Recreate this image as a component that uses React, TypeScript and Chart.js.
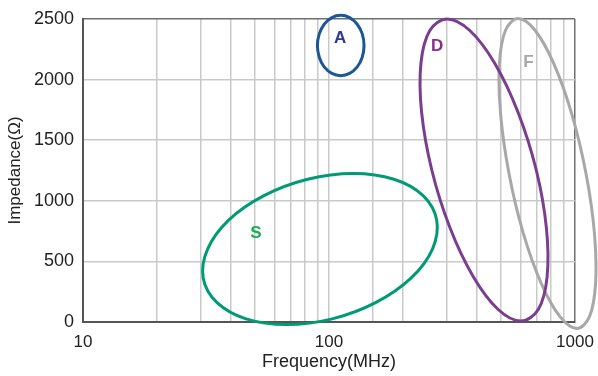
import React, { useEffect, useRef } from 'react';
import { Chart, registerables } from 'chart.js';

Chart.register(...registerables);

// Axis ticks
const X_TICK_LABELS = [10, 100, 1000];
const Y_MIN = 0;
const Y_MAX = 2500;
const Y_STEP = 500;

// Ellipse outlines (frequency in MHz, impedance in ohms)
const A_FREQ = [111.6, 121.3, 130.2, 136.5, 138.8, 136.5, 130.2, 121.3, 111.6, 102.7, 95.6, 91.3, 89.7, 91.3, 95.6, 102.7];
const A_IMP = [2530, 2511, 2457, 2377, 2281, 2185, 2105, 2051, 2032, 2051, 2105, 2185, 2281, 2377, 2457, 2511];

const D_FREQ = [301.8, 373.6, 471.6, 586.6, 695.8, 765.1, 770.2, 708.9, 603.3, 487.3, 386.0, 310.3, 261.7, 237.9, 236.4, 256.9];
const D_IMP = [2500, 2405, 2135, 1731, 1254, 777, 373, 103, 8, 103, 373, 777, 1254, 1731, 2135, 2405];

const F_FREQ = [586.6, 687.8, 820.8, 970.5, 1108.6, 1199.3, 1212.6, 1145.1, 1018.8, 869.0, 728.2, 615.7, 539.1, 498.4, 492.8, 521.8];
const F_IMP = [2504, 2407, 2129, 1715, 1225, 735, 321, 44, -54, 44, 321, 735, 1225, 1715, 2129, 2407];

const S_FREQ = [125.5, 183.6, 241.3, 274.0, 263.4, 215.9, 155.3, 103.1, 67.3, 46.0, 35.0, 30.8, 32.1, 39.1, 54.4, 81.9];
const S_IMP = [1225, 1178, 1043, 841, 602, 364, 162, 26, -21, 26, 162, 364, 602, 841, 1043, 1178];

// Labels
const SERIES_NAMES = ['A', 'D', 'F', 'S'];
const LABEL_FREQ = [111, 275, 646, 50.4];
const LABEL_IMP = [2343, 2277, 2139, 732];

// Styles
const LINE_COLORS = ['#1b5796', '#7b3e8e', '#a8a8aa', '#009a74'];
const LABEL_COLORS = ['#2e3890', '#8e2a8e', '#a8a8aa', '#19ad50'];
const FONT_FAMILY = '"Liberation Sans", Arial, Helvetica, sans-serif';

function closedLoop(freq: number[], imp: number[]) {
  const pts = freq.map((f, i) => ({ x: f, y: imp[i] }));
  const n = pts.length;
  // wrap so that the spline is smooth at the closing point; the two
  // outer helper segments are made transparent
  return [pts[n - 1], ...pts, pts[0], pts[1]];
}

const labelPlugin = {
  id: 'ellipseLabels',
  afterDatasetsDraw(chart: any) {
    const { ctx, scales } = chart;
    const x = scales.x;
    const y = scales.y;
    ctx.save();
    ctx.font = 'bold 17px ' + FONT_FAMILY;
    ctx.textAlign = 'center';
    ctx.textBaseline = 'middle';
    SERIES_NAMES.forEach((t, i) => {
      ctx.fillStyle = LABEL_COLORS[i];
      ctx.fillText(t, x.getPixelForValue(LABEL_FREQ[i]), y.getPixelForValue(LABEL_IMP[i]));
    });
    ctx.restore();
  },
};

export default function App() {
  const canvasRef = useRef<HTMLCanvasElement | null>(null);

  useEffect(() => {
    document.body.style.margin = '0';
    const canvas = canvasRef.current;
    if (!canvas) return;

    const series = [
      [A_FREQ, A_IMP],
      [D_FREQ, D_IMP],
      [F_FREQ, F_IMP],
      [S_FREQ, S_IMP],
    ];

    const datasets = series.map(([f, z], i) => {
      const data = closedLoop(f, z);
      const last = data.length - 2;
      return {
        label: SERIES_NAMES[i],
        data,
        borderColor: LINE_COLORS[i],
        backgroundColor: LINE_COLORS[i],
        borderWidth: 3,
        pointRadius: 0,
        pointHoverRadius: 0,
        tension: 0.35,
        capBezierPoints: false,
        fill: false,
        clip: false as any,
        segment: {
          borderColor: (ctx: any) =>
            ctx.p0DataIndex === 0 || ctx.p0DataIndex === last ? 'rgba(0,0,0,0)' : undefined,
        },
      };
    });

    const chart = new Chart(canvas, {
      type: 'line',
      data: { datasets },
      plugins: [labelPlugin],
      options: {
        responsive: false,
        animation: false,
        events: [],
        layout: { padding: { left: 0, right: 23, top: 19, bottom: 0 } },
        elements: { line: { capBezierPoints: false } },
        plugins: {
          legend: { display: false },
          tooltip: { enabled: false },
        },
        scales: {
          x: {
            type: 'logarithmic',
            position: 'bottom',
            min: 10,
            max: 1000,
            afterFit: (scale: any) => {
              scale.height = 54;
              scale.paddingLeft = 0;
              scale.paddingRight = 0;
            },
            grid: {
              color: (ctx: any) => (ctx.tick && ctx.tick.value === 1000 ? '#6e6e6e' : '#c9c9c9'),
              lineWidth: 1.5,
              drawTicks: false,
            },
            border: { color: '#555555', width: 2 },
            ticks: {
              autoSkip: false,
              maxRotation: 0,
              padding: 10,
              color: '#222222',
              font: { family: FONT_FAMILY, size: 17 },
              callback: (value: any) => (X_TICK_LABELS.includes(Number(value)) ? String(value) : ''),
            },
            title: {
              display: true,
              text: 'Frequency(MHz)',
              color: '#222222',
              font: { family: FONT_FAMILY, size: 18 },
              padding: { top: 0, bottom: 3 },
            },
          },
          y: {
            type: 'linear',
            min: Y_MIN,
            max: Y_MAX,
            afterFit: (scale: any) => {
              scale.width = 83;
              scale.paddingTop = 0;
              scale.paddingBottom = 0;
            },
            grid: {
              color: (ctx: any) => (ctx.tick && ctx.tick.value === Y_MAX ? '#6e6e6e' : '#c9c9c9'),
              lineWidth: 1.5,
              drawTicks: false,
            },
            border: { color: '#555555', width: 2 },
            ticks: {
              stepSize: Y_STEP,
              padding: 9,
              color: '#222222',
              font: { family: FONT_FAMILY, size: 18 },
              callback: (value: any) => String(value),
            },
            title: {
              display: true,
              text: 'Impedance(Ω)',
              color: '#222222',
              font: { family: FONT_FAMILY, size: 17 },
              padding: { top: 5, bottom: 0 },
            },
          },
        },
      },
    } as any);

    return () => chart.destroy();
  }, []);

  return (
    <div style={{ position: 'absolute', left: 0, top: 0, width: 598, height: 376, background: '#ffffff' }}>
      <canvas ref={canvasRef} width={598} height={376} />
    </div>
  );
}
